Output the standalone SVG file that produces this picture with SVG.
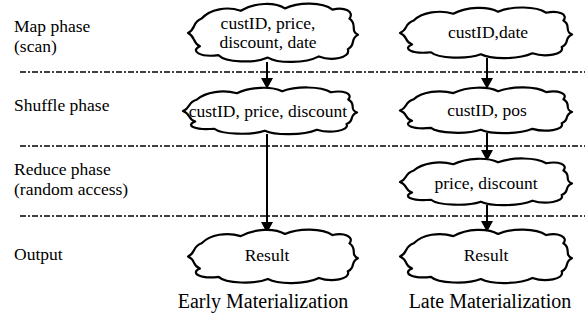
<svg xmlns="http://www.w3.org/2000/svg" xmlns:xlink="http://www.w3.org/1999/xlink" width="585" height="323" viewBox="0 0 585 323">
<style>
.cl{fill:#fff;stroke:#000;stroke-width:2.2;stroke-linejoin:round}
.t{font-family:"Liberation Serif","Times New Roman",serif;font-size:17.5px;fill:#000}
.c{text-anchor:middle}
.b{font-size:20px}
.sep{stroke:#000;stroke-width:1.3;stroke-dasharray:6 2 2 2;fill:none}
.ar{stroke:#000;stroke-width:2;fill:none;marker-end:url(#ah)}
</style>
<defs>
<marker id="ah" markerUnits="userSpaceOnUse" markerWidth="11" markerHeight="12" viewBox="0 0 11 12" refX="10" refY="6" orient="auto">
<path d="M0,0 L11,6 L0,12 Z" fill="#000"/>
</marker>
<symbol id="cloud" viewBox="0 0 100 100" preserveAspectRatio="none" overflow="visible">
<path vector-effect="non-scaling-stroke" class="cl" d="M8,26 C13,10 23,5 31,13 C39,-1 51,-2 57,9 C65,-2 79,-2 85,11 C92,6 98,14 95,26 C100,36 95,46 100,53 C95,60 99,70 94,77 C96,92 84,97 77,89 C69,101 53,101 47,91 C39,101 22,99 18,87 C7,91 1,80 7,72 C2,65 5,57 0,50 C5,43 2,33 8,26 Z"/>
</symbol>
</defs>
<g id="separators">
<line class="sep" x1="20" y1="72" x2="585" y2="72"/>
<line class="sep" x1="20" y1="146" x2="585" y2="146"/>
<line class="sep" x1="20" y1="216" x2="585" y2="216"/>
</g>
<g id="labels">
<text class="t" x="14" y="32">Map phase</text>
<text class="t" x="14" y="52">(scan)</text>
<text class="t" x="14" y="111">Shuffle phase</text>
<text class="t" x="14" y="175">Reduce phase</text>
<text class="t" x="14" y="195">(random access)</text>
<text class="t" x="14" y="260">Output</text>
</g>
<g id="connectors">
<line class="ar" x1="267" y1="62" x2="267" y2="88"/>
<line class="ar" x1="267" y1="134" x2="267" y2="232"/>
<line class="ar" x1="487" y1="58" x2="487" y2="88"/>
<line class="ar" x1="487" y1="133" x2="487" y2="160"/>
<line class="ar" x1="487" y1="205" x2="487" y2="231"/>
</g>
<g id="early-map">
<use xlink:href="#cloud" x="188" y="3" width="170" height="60"/>
<text class="t c" x="268" y="29">custID, price,</text>
<text class="t c" x="268" y="48">discount, date</text>
</g>
<g id="early-shuffle">
<use xlink:href="#cloud" x="183" y="87" width="174" height="48"/>
<text class="t c" x="268" y="117">custID, price, discount</text>
</g>
<g id="early-result">
<use xlink:href="#cloud" x="188" y="229" width="170" height="55"/>
<text class="t c" x="267" y="261">Result</text>
</g>
<g id="late-map">
<use xlink:href="#cloud" x="400" y="7" width="172" height="52"/>
<text class="t c" x="488" y="38">custID,date</text>
</g>
<g id="late-shuffle">
<use xlink:href="#cloud" x="400" y="87" width="172" height="47"/>
<text class="t c" x="487" y="116">custID, pos</text>
</g>
<g id="late-reduce">
<use xlink:href="#cloud" x="400" y="158" width="172" height="48"/>
<text class="t c" x="486" y="189">price, discount</text>
</g>
<g id="late-result">
<use xlink:href="#cloud" x="400" y="229" width="172" height="55"/>
<text class="t c" x="486" y="261">Result</text>
</g>
<g id="titles">
<text class="t b c" x="263" y="308">Early Materialization</text>
<text class="t b c" x="490" y="308">Late Materialization</text>
</g>
</svg>
